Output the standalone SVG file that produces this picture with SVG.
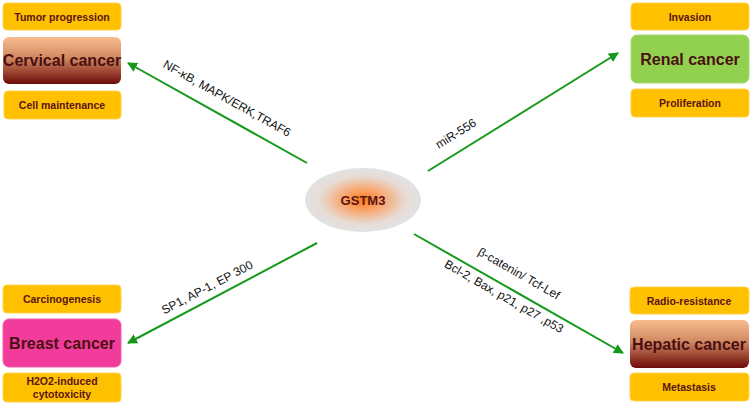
<svg xmlns="http://www.w3.org/2000/svg" width="752" height="404" viewBox="0 0 752 404">
<defs>
<linearGradient id="redGrad" x1="0" y1="0" x2="0" y2="1">
<stop offset="0" stop-color="#F9BD8E"/>
<stop offset="0.45" stop-color="#D08862"/>
<stop offset="1" stop-color="#6E0A0A"/>
</linearGradient>
<radialGradient id="coreGrad" cx="0.5" cy="0.5" r="0.5">
<stop offset="0" stop-color="#FF7A1A"/>
<stop offset="0.35" stop-color="#F8A872"/>
<stop offset="0.75" stop-color="#E6DCD6"/>
<stop offset="1" stop-color="#E2E2E2"/>
</radialGradient>
<marker id="arr" viewBox="0 0 10 10" refX="9" refY="5" markerWidth="5" markerHeight="5" orient="auto" markerUnits="strokeWidth">
<path d="M0,0 L10,5 L0,10 z" fill="#15991A"/>
</marker>
<style>
.tag{fill:#FFC000;stroke:#FFD34D;stroke-width:1}
.tagt{font-family:"Liberation Sans",Arial,sans-serif;font-weight:bold;font-size:10.5px;fill:#5A1414;text-anchor:middle}
.big{font-family:"Liberation Sans",Arial,sans-serif;font-weight:bold;font-size:16px;fill:#4A1010;text-anchor:middle}
.lbl{font-family:"Liberation Sans",Arial,sans-serif;font-size:12px;fill:#111;text-anchor:middle}
.con{stroke:#15991A;stroke-width:2;fill:none;marker-end:url(#arr)}
</style>
</defs>
<rect width="752" height="404" fill="#FFFFFF"/>
<g id="connectors">
<line class="con" x1="307" y1="163" x2="128" y2="63"/>
<line class="con" x1="428" y1="171" x2="618" y2="53"/>
<line class="con" x1="317" y1="243" x2="128" y2="343"/>
<line class="con" x1="414" y1="234" x2="623" y2="353"/>
<text class="lbl" transform="translate(225,102) rotate(29.2)">NF-κB, MAPK/ERK,TRAF6</text>
<text class="lbl" transform="translate(458,137) rotate(-31.8)">miR-556</text>
<text class="lbl" transform="translate(209,291) rotate(-27.7)">SP1, AP-1, EP 300</text>
<text class="lbl" transform="translate(517,277) rotate(29.7)">β-catenin/ Tcf-Lef</text>
<text class="lbl" transform="translate(502,300) rotate(29.7)">Bcl-2, Bax, p21, p27 ,p53</text>
</g>
<g id="gstm3">
<ellipse cx="363" cy="200" rx="58" ry="32" fill="url(#coreGrad)"/>
<text class="tagt" x="363" y="205" style="font-size:13px">GSTM3</text>
</g>
<g id="cervical">
<rect class="tag" x="3" y="3" width="118" height="27" rx="4"/>
<text class="tagt" x="62" y="20.5">Tumor progression</text>
<rect x="3" y="37" width="118" height="47" rx="6" fill="url(#redGrad)"/>
<text class="big" x="62" y="66">Cervical cancer</text>
<rect class="tag" x="4" y="91" width="117" height="28" rx="4"/>
<text class="tagt" x="62" y="109">Cell maintenance</text>
</g>
<g id="renal">
<rect class="tag" x="631" y="3" width="118" height="27" rx="4"/>
<text class="tagt" x="690" y="20.5">Invasion</text>
<rect x="631" y="35" width="118" height="48" rx="6" fill="#92D050" stroke="#A6DA6E"/>
<text class="big" x="690" y="65">Renal cancer</text>
<rect class="tag" x="631" y="89" width="118" height="28" rx="4"/>
<text class="tagt" x="690" y="107">Proliferation</text>
</g>
<g id="breast">
<rect class="tag" x="3" y="285" width="118" height="28" rx="4"/>
<text class="tagt" x="62" y="303">Carcinogenesis</text>
<rect x="3" y="319" width="118" height="48" rx="6" fill="#F23C9C" stroke="#F560AE"/>
<text class="big" x="62" y="349">Breast cancer</text>
<rect class="tag" x="3" y="373" width="118" height="29" rx="4"/>
<text class="tagt" x="62" y="385">H2O2-induced</text>
<text class="tagt" x="62" y="398">cytotoxicity</text>
</g>
<g id="hepatic">
<rect class="tag" x="630" y="287" width="119" height="27" rx="4"/>
<text class="tagt" x="689" y="304.5">Radio-resistance</text>
<rect x="630" y="320" width="119" height="48" rx="6" fill="url(#redGrad)"/>
<text class="big" x="689" y="350">Hepatic cancer</text>
<rect class="tag" x="630" y="373" width="119" height="28" rx="4"/>
<text class="tagt" x="689" y="391">Metastasis</text>
</g>
</svg>
